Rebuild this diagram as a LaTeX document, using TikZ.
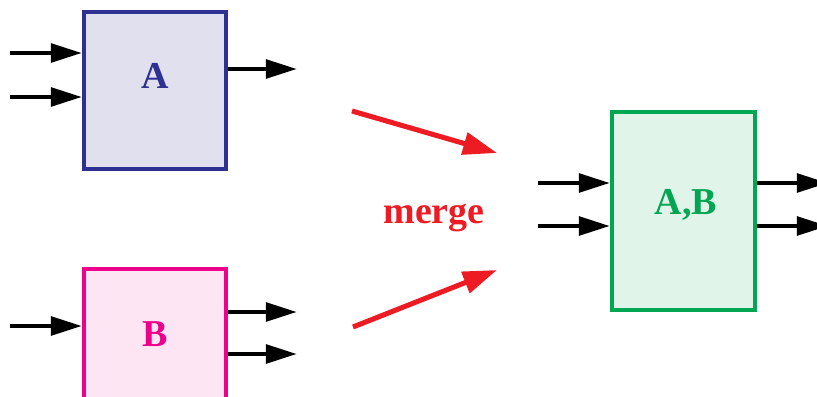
\documentclass[tikz,border=0pt]{standalone}
\usepackage{fontspec}
\setmainfont{Liberation Serif}
\usetikzlibrary{arrows.meta,positioning}
\definecolor{blocknavy}{HTML}{2E3192}
\definecolor{blockpink}{HTML}{EC008C}
\definecolor{blockgreen}{HTML}{00A651}
\definecolor{mergered}{HTML}{ED1C24}

\begin{document}
\begin{tikzpicture}[
x=0.025cm, y=-0.025cm,
block/.style={rectangle, draw, line width=2.8pt, inner sep=0pt, minimum width=3.55cm, minimum height=3.925cm},
blocklabel/.style={font=\fontsize{27}{30}\selectfont\bfseries},
wire/.style={-{Triangle[length=0.78cm,width=0.46cm]}, line width=3.3pt, black},
mergeflow/.style={-{Triangle[length=0.85cm,width=0.55cm]}, line width=3.6pt, mergered}
]
\useasboundingbox (0,0) rectangle (817,396);

% --- Block A ---
\node (A) [block, draw=blocknavy, fill=blocknavy!15] at (155,90.5) {};
\node (Alabel) [blocklabel, text=blocknavy] at ([yshift=0.36cm]A.center) {A};
\coordinate (Ain1) at (10,53);
\coordinate (Ain2) at (10,97);
\coordinate (Aout) at (297,69);
\draw [wire] (Ain1) -- (Ain1 -| A.west);
\draw [wire] (Ain2) -- (Ain2 -| A.west);
\draw [wire] (Aout -| A.east) -- (Aout);

% --- Block B ---
\node (B) [block, draw=blockpink, fill=blockpink!10] at (155,347.5) {};
\node (Blabel) [blocklabel, text=blockpink] at ([yshift=0.325cm]B.center) {B};
\coordinate (Bin) at (10,326);
\coordinate (Bout1) at (297,312);
\coordinate (Bout2) at (297,354);
\draw [wire] (Bin) -- (Bin -| B.west);
\draw [wire] (Bout1 -| B.east) -- (Bout1);
\draw [wire] (Bout2 -| B.east) -- (Bout2);

% --- Merged block A,B ---
\node (AB) [block, draw=blockgreen, fill=blockgreen!12, minimum width=3.575cm, minimum height=4.95cm] at (683.5,211) {};
\node (ABlabel) [blocklabel, text=blockgreen] at ([xshift=0.06cm, yshift=0.15cm]AB.center) {A,B};
\coordinate (ABin1) at (538,183);
\coordinate (ABin2) at (538,226);
\coordinate (ABout1) at (828,183);
\coordinate (ABout2) at (828,226);
\draw [wire] (ABin1) -- (ABin1 -| AB.west);
\draw [wire] (ABin2) -- (ABin2 -| AB.west);
\draw [wire] (ABout1 -| AB.east) -- (ABout1);
\draw [wire] (ABout2 -| AB.east) -- (ABout2);

% --- Merge step ---
\node (merge) [blocklabel, text=mergered] at (434,218) {merge};
\coordinate (fromA) at (352,111);
\coordinate (fromB) at (353,327);
\coordinate (toABtop) at (497,153);
\coordinate (toABbot) at (497,270);
\draw [mergeflow] (fromA) -- (toABtop);
\draw [mergeflow] (fromB) -- (toABbot);

\end{tikzpicture}
\end{document}
